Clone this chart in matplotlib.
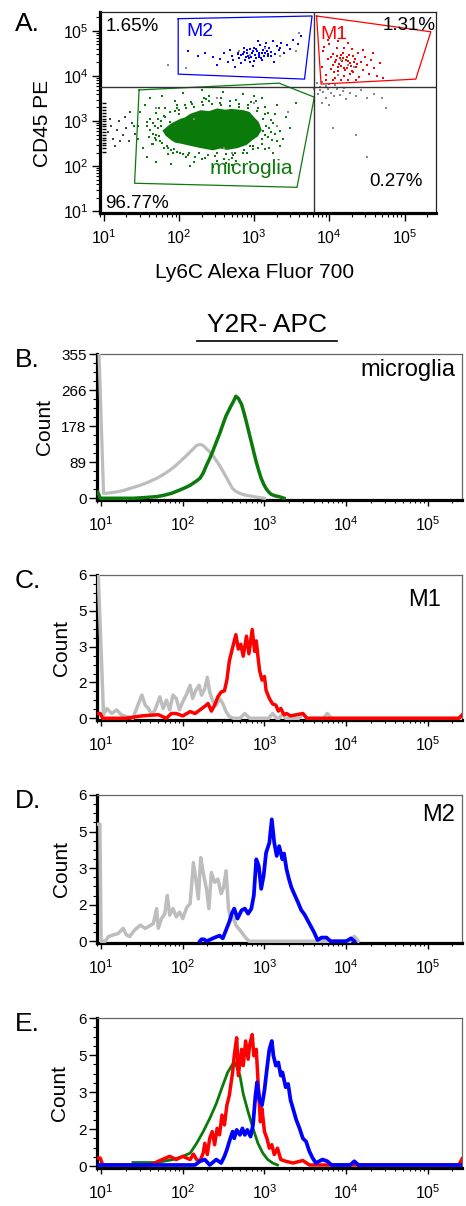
import numpy as np
import matplotlib
matplotlib.use("Agg")
import matplotlib.pyplot as plt
from matplotlib.ticker import LogLocator, MultipleLocator, NullFormatter
from matplotlib.lines import Line2D

plt.rcParams['font.family'] = ['Liberation Sans', 'DejaVu Sans']

# ---------------- data (log10 units) ----------------
# panel A: quadrant gates and populations
quad_x = 3.79
quad_y = 3.76
gate_m2_x = [1.99, 3.77, 3.67, 1.99]
gate_m2_y = [5.27, 5.33, 3.93, 4.04]
gate_m1_x = [3.83, 5.35, 5.15, 3.89]
gate_m1_y = [5.33, 4.98, 3.93, 3.82]
gate_mg_x = [1.47, 3.33, 3.80, 3.57, 1.41]
gate_mg_y = [3.69, 3.84, 3.53, 1.53, 1.62]

core_x = [1.78, 1.86, 1.90, 2.02, 2.08, 2.15, 2.29, 2.40, 2.51, 2.62, 2.70, 2.86, 2.94, 2.98, 3.06, 3.08,
          3.10, 3.05, 2.98, 2.90, 2.78, 2.64, 2.55, 2.45, 2.29, 2.15, 2.02, 1.95, 1.90, 1.82]
core_y = [2.79, 2.90, 2.95, 3.05, 3.08, 3.16, 3.24, 3.22, 3.28, 3.25, 3.27, 3.24, 3.20, 3.12, 2.98, 2.90,
          2.80, 2.66, 2.58, 2.47, 2.40, 2.36, 2.39, 2.35, 2.40, 2.45, 2.50, 2.52, 2.57, 2.68]

green_x = [1.62, 1.66, 1.70, 1.72, 1.75, 1.80, 1.84, 1.88, 1.93, 1.98, 2.02, 2.08, 2.12, 2.18, 2.22, 2.30,
           2.35, 2.40, 2.48, 2.55, 2.60, 2.68, 2.72, 2.80, 2.85, 2.92, 2.98, 3.05, 3.10, 3.14, 3.18, 3.20,
           3.22, 1.68, 1.76, 3.12, 2.95, 2.00, 1.40, 1.45, 1.48, 1.52, 1.55, 1.58, 1.62, 1.70, 1.78, 1.90,
           2.05, 2.15, 2.30, 2.45, 2.58, 2.70, 2.85, 2.95, 3.10, 3.25, 3.30, 3.38, 3.42, 3.48, 3.55, 2.40,
           2.20, 1.95, 3.00, 3.35, 1.58, 1.64, 3.28, 3.15, 2.62, 2.33, 1.86, 3.02, 2.76, 2.50, 1.73, 3.24,
           1.72, 1.74, 1.76, 1.78, 1.82, 1.85, 1.88, 1.90, 1.95, 1.97, 2.00, 2.05, 2.10, 2.14, 2.20, 2.26,
           2.32, 2.38, 2.44, 2.50, 2.56, 2.62, 2.68, 2.74, 2.80, 2.86, 2.92, 2.98, 3.04, 3.10, 3.12, 3.14,
           3.16, 1.65, 1.68, 1.70, 3.22, 3.25, 3.18, 3.05, 2.90, 2.70, 2.50, 2.30, 2.10, 1.92, 1.80, 1.66,
           1.60, 1.58, 1.62, 1.70, 1.82, 1.98, 2.16, 2.36, 2.56, 2.76, 2.96, 3.14, 3.28, 3.34, 3.30, 3.20]
green_y = [2.80, 2.95, 2.70, 3.05, 2.55, 3.12, 2.45, 3.20, 2.38, 3.28, 2.30, 3.35, 2.25, 3.38, 2.20, 3.42,
           2.18, 3.45, 2.22, 3.40, 2.15, 3.44, 2.25, 3.38, 2.30, 3.35, 2.38, 3.30, 2.50, 3.15, 2.65, 2.85,
           3.02, 2.62, 2.88, 2.78, 2.45, 3.15, 2.90, 2.60, 3.20, 2.40, 3.35, 2.20, 3.50, 2.10, 3.55, 2.05,
           3.62, 2.00, 3.68, 1.98, 3.65, 2.02, 3.60, 2.10, 3.50, 2.30, 3.35, 2.60, 3.10, 2.85, 3.40, 3.55,
           2.10, 3.45, 3.55, 2.45, 2.98, 2.50, 2.72, 2.38, 2.08, 3.52, 2.26, 3.44, 2.12, 3.50, 3.28, 2.58,
           2.85, 2.66, 3.00, 2.52, 3.08, 2.40, 2.98, 2.35, 3.22, 2.32, 3.25, 2.26, 3.30, 2.30, 3.32, 2.28,
           3.36, 2.25, 3.38, 2.28, 3.36, 2.26, 3.34, 2.30, 3.32, 2.36, 3.28, 2.44, 3.22, 2.60, 3.05, 2.70,
           2.90, 2.72, 2.90, 2.58, 2.75, 2.95, 3.18, 2.40, 2.28, 2.18, 2.12, 2.15, 2.20, 2.28, 2.40, 2.50,
           2.65, 2.88, 3.05, 3.18, 3.28, 3.36, 3.42, 3.48, 3.50, 3.46, 3.42, 3.32, 3.15, 2.78, 2.55, 2.40]

blue_x = [2.45, 2.55, 2.60, 2.65, 2.70, 2.72, 2.78, 2.80, 2.82, 2.85, 2.88, 2.90, 2.92, 2.95, 2.97, 3.00,
          3.02, 3.04, 3.06, 3.08, 3.10, 3.12, 3.14, 3.16, 3.18, 3.20, 3.22, 3.25, 3.28, 3.30, 3.33, 3.36,
          3.40, 3.44, 3.48, 3.52, 3.58, 3.62, 2.35, 2.25, 2.50, 2.75, 2.98, 3.26, 2.86, 3.05, 2.68, 2.12,
          2.93, 3.11, 3.35, 3.00, 2.83, 2.91, 2.96, 3.01, 3.07, 3.13, 3.17, 3.03, 2.89, 3.09, 3.19, 2.99,
          2.94, 3.15, 3.23, 2.87, 3.06, 2.79]
blue_y = [4.42, 4.38, 4.50, 4.30, 4.45, 4.35, 4.52, 4.40, 4.28, 4.48, 4.36, 4.58, 4.44, 4.32, 4.50, 4.62,
          4.40, 4.55, 4.46, 4.68, 4.36, 4.58, 4.50, 4.72, 4.44, 4.62, 4.54, 4.78, 4.48, 4.66, 4.58, 4.74,
          4.52, 4.68, 4.60, 4.80, 4.70, 4.88, 4.52, 4.45, 4.25, 4.20, 4.22, 4.30, 4.62, 4.78, 4.58, 4.55,
          4.40, 4.50, 4.62, 4.34, 4.46, 4.51, 4.42, 4.47, 4.52, 4.44, 4.56, 4.59, 4.41, 4.39, 4.49, 4.55,
          4.60, 4.64, 4.45, 4.53, 4.43, 4.49]

red_x = [3.90, 3.92, 3.95, 3.98, 4.00, 4.02, 4.05, 4.07, 4.08, 4.10, 4.12, 4.14, 4.16, 4.18, 4.20, 4.22,
         4.24, 4.26, 4.28, 4.30, 4.32, 4.34, 4.36, 4.38, 4.40, 4.42, 4.45, 4.48, 4.50, 4.53, 4.56, 4.60,
         4.64, 4.68, 4.72, 3.95, 4.05, 4.15, 4.25, 4.35, 3.98, 4.12, 4.25, 3.93, 4.45, 4.58, 4.20, 4.05,
         4.30, 4.10, 4.17, 4.27, 4.02, 4.13, 4.19, 4.23, 4.29, 4.09, 4.33, 4.21, 4.15, 4.37, 4.25, 4.11,
         4.31, 4.18, 4.06]
red_y = [4.20, 4.55, 4.02, 4.38, 4.70, 4.15, 4.48, 3.95, 4.30, 4.62, 4.10, 4.40, 4.22, 4.52, 4.00, 4.35,
         4.18, 4.46, 4.28, 4.60, 4.08, 4.38, 4.20, 4.50, 3.98, 4.30, 4.14, 4.42, 4.25, 4.05, 4.35, 4.18,
         4.00, 4.28, 3.95, 3.92, 3.90, 3.92, 3.90, 3.92, 4.80, 4.78, 4.72, 4.65, 4.58, 4.50, 4.62, 4.25,
         4.12, 4.45, 4.33, 4.05, 4.42, 4.27, 4.18, 4.41, 4.22, 4.36, 4.30, 4.13, 4.47, 4.26, 4.34, 4.19,
         4.44, 4.39, 4.09]

gray_x = [3.80, 3.85, 3.88, 3.92, 3.95, 3.98, 4.02, 4.06, 4.10, 4.14, 4.18, 4.22, 4.28, 4.35, 4.42, 4.50,
          4.60, 4.70, 3.90, 4.00, 4.05, 4.35, 4.50, 4.75, 3.83, 3.90, 4.00, 2.95, 3.15, 3.35, 2.80, 3.55,
          2.20, 2.70, 3.00, 1.70, 2.50, 3.30, 4.15, 4.33, 1.85, 2.10, 3.60, 3.45, 2.60, 3.87, 3.96, 4.08,
          4.20, 4.12, 4.25]
gray_y = [3.70, 3.60, 3.75, 3.65, 3.50, 3.72, 3.62, 3.55, 3.70, 3.58, 3.66, 3.48, 3.62, 3.55, 3.68, 3.50,
          3.60, 3.52, 3.40, 3.35, 2.85, 2.70, 2.20, 3.30, 3.85, 3.86, 3.82, 4.46, 4.62, 4.45, 4.55, 4.55,
          3.05, 2.30, 3.40, 3.30, 3.50, 2.90, 4.36, 4.20, 4.25, 4.18, 4.95, 3.20, 2.40, 3.68, 3.78, 3.80,
          3.74, 4.02, 4.24]

left_x = [1.05, 1.10, 1.12, 1.18, 1.20, 1.25, 1.30, 1.33, 1.38, 1.15, 1.28, 1.08, 1.22, 1.42, 1.35, 1.46]
left_y = [2.75, 2.90, 2.60, 2.80, 3.00, 2.70, 2.85, 2.55, 2.95, 2.45, 3.10, 3.05, 2.55, 2.72, 3.20, 2.88]
comb_y = [2.32, 2.40, 2.46, 2.52, 2.58, 2.63, 2.70, 2.76, 2.82, 2.88, 2.93, 2.99, 3.05, 3.12, 3.18, 3.25, 3.32, 3.40]

# panel B: microglia (counts 0-355)
b_ctrl_x = [0.975, 1.03, 1.10, 1.20, 1.27, 1.35, 1.48, 1.58, 1.68, 1.76, 1.84, 1.90, 1.96, 2.03, 2.09, 2.13, 2.17,
            2.20, 2.23, 2.26, 2.29, 2.33, 2.37, 2.41, 2.45, 2.49, 2.53, 2.57, 2.61, 2.65, 2.70, 2.76, 2.82, 2.90, 3.00]
b_ctrl_y = [355, 12, 13, 16, 19, 24, 32, 40, 49, 58, 69, 78, 89, 102, 114, 122, 130,
            132, 132, 128, 122, 114, 105, 93, 81, 67, 53, 38, 24, 17, 12, 8, 6, 3, 0]
b_mg_x = [0.96, 0.99, 1.40, 1.55, 1.68, 1.76, 1.86, 1.96, 2.03, 2.09, 2.15, 2.21, 2.25, 2.29, 2.33, 2.37, 2.41,
          2.45, 2.49, 2.53, 2.56, 2.59, 2.62, 2.65, 2.68, 2.72, 2.75, 2.78, 2.81, 2.84, 2.87, 2.90, 2.93, 2.96,
          2.99, 3.02, 3.05, 3.08, 3.13, 3.18, 3.24]
b_mg_y = [15, 0, 0, 2, 4, 7, 12, 20, 26, 32, 40, 49, 62, 81, 98, 117, 138,
          158, 181, 203, 215, 227, 238, 251, 246, 231, 210, 187, 162, 138, 113, 89, 68, 49,
          35, 24, 16, 10, 6, 4, 0]

# panel C: M1
c_ctrl_x = [0.955, 0.965, 1.03, 1.07, 1.13, 1.19, 1.25, 1.31, 1.39, 1.45, 1.50, 1.54, 1.58, 1.62, 1.66, 1.72,
            1.76, 1.80, 1.84, 1.88, 1.92, 1.96, 2.00, 2.05, 2.09, 2.12, 2.16, 2.20, 2.23, 2.27, 2.30, 2.33,
            2.37, 2.41, 2.45, 2.49, 2.53, 2.57, 2.62, 2.70, 2.76, 2.82, 3.05, 3.10, 3.15, 3.18, 3.22, 3.26,
            3.42, 3.47, 3.52, 3.72, 3.77, 3.82, 5.42]
c_ctrl_y = [6, 6, 0.14, 0.41, 0.2, 0.35, 0.14, 0.07, 0, 0.55, 0.97, 0.55, 0.41, 0.14, 0.35, 0.9,
            0.41, 0.76, 0.35, 0.97, 0.83, 0.35, 0.69, 1.03, 1.38, 0.83, 1.17, 1.38, 0.97, 1.24, 1.72, 1.1,
            0.69, 0.55, 0.83, 0.62, 0.28, 0.07, 0, 0, 0.2, 0, 0, 0.2, 0, 0, 0.2, 0,
            0, 0.2, 0, 0, 0.2, 0, 0]
c_m1_x = [0.955, 0.99, 1.02, 1.30, 1.50, 1.70, 1.80, 1.86, 1.92, 2.00, 2.09, 2.15, 2.21, 2.27, 2.31, 2.35,
          2.39, 2.43, 2.47, 2.51, 2.54, 2.57, 2.61, 2.65, 2.68, 2.71, 2.74, 2.78, 2.81, 2.85, 2.88, 2.90,
          2.92, 2.94, 2.97, 3.00, 3.02, 3.06, 3.10, 3.14, 3.17, 3.20, 3.24, 3.27, 3.32, 3.47, 3.52, 5.38, 5.42]
c_m1_y = [0.2, 0.2, 0, 0, 0.1, 0.15, 0, 0.2, 0.2, 0.1, 0.28, 0.2, 0.35, 0.5, 0.62, 0.3,
          0.55, 0.9, 1.1, 1.15, 1.6, 2.4, 2.96, 3.5, 2.9, 3.1, 2.6, 3.44, 2.7, 3.72, 2.8, 3.24,
          2.6, 2.0, 1.6, 1.75, 1.17, 0.83, 0.6, 0.55, 0.3, 0.41, 0.15, 0.2, 0.1, 0.2, 0, 0, 0.14]

# panel D: M2
d_ctrl_x = [0.97, 0.985, 1.00, 1.05, 1.09, 1.15, 1.21, 1.27, 1.31, 1.35, 1.41, 1.48, 1.54, 1.58, 1.64, 1.68,
            1.70, 1.74, 1.78, 1.81, 1.84, 1.88, 1.92, 1.96, 2.00, 2.05, 2.09, 2.13, 2.16, 2.19, 2.22, 2.25,
            2.29, 2.32, 2.35, 2.39, 2.43, 2.47, 2.50, 2.53, 2.56, 2.59, 2.62, 2.65, 2.70, 2.76, 2.81, 4.05,
            4.10, 4.15]
d_ctrl_y = [4.8, 4.8, 0, 0, 0.19, 0.26, 0.32, 0.53, 0.26, 0.19, 0.46, 0.66, 0.53, 0.6, 0.73, 1.34,
            0.53, 0.93, 1.13, 1.88, 1.07, 1.34, 1.0, 1.2, 0.93, 1.4, 1.54, 3.23, 2.55, 1.74, 3.43, 2.82,
            2.15, 1.34, 2.82, 2.42, 2.55, 1.95, 2.21, 2.89, 1.34, 0.86, 1.0, 0.66, 0.46, 0.19, 0, 0,
            0.2, 0]
d_m2_x = [2.21, 2.23, 2.26, 2.29, 2.39, 2.45, 2.49, 2.53, 2.57, 2.60, 2.63, 2.67, 2.72, 2.76, 2.80, 2.84,
          2.87, 2.90, 2.93, 2.96, 2.99, 3.02, 3.06, 3.09, 3.12, 3.15, 3.18, 3.22, 3.24, 3.27, 3.30, 3.33,
          3.37, 3.41, 3.45, 3.49, 3.53, 3.57, 3.61, 3.65, 3.70, 3.76, 3.81, 4.00, 4.06, 4.10]
d_m2_y = [0, 0.08, 0.08, 0, 0.15, 0.23, 0.12, 0.46, 0.8, 1.13, 1.34, 0.93, 1.27, 1.34, 1.13, 1.34,
          1.88, 3.36, 3.09, 2.15, 2.69, 3.63, 4.04, 5.0, 4.04, 3.5, 3.9, 3.36, 3.6, 2.96, 2.55, 2.21,
          1.9, 1.6, 1.28, 1.1, 0.85, 0.6, 0.35, 0.05, 0.15, 0.15, 0, 0, 0.12, 0]

# panel E: overlay
e_mg_x = [1.39, 1.68, 1.88, 2.00, 2.09, 2.17, 2.25, 2.33, 2.41, 2.49, 2.55, 2.61, 2.64, 2.70, 2.74, 2.80,
          2.86, 2.92, 2.98, 3.04, 3.10, 3.16]
e_mg_y = [0.15, 0.15, 0.27, 0.4, 0.53, 0.93, 1.4, 1.93, 2.53, 3.27, 3.8, 4.13, 4.2, 3.67, 2.93, 2.2,
          1.53, 0.93, 0.53, 0.27, 0.13, 0.05]
e_m1_x = [0.955, 0.99, 1.02, 1.60, 1.70, 1.84, 1.92, 2.00, 2.09, 2.13, 2.17, 2.21, 2.25, 2.27, 2.30, 2.33,
          2.36, 2.39, 2.42, 2.45, 2.48, 2.51, 2.54, 2.57, 2.61, 2.63, 2.66, 2.68, 2.72, 2.74, 2.77, 2.80,
          2.82, 2.85, 2.87, 2.90, 2.92, 2.95, 2.97, 3.00, 3.03, 3.06, 3.09, 3.12, 3.16, 3.20, 3.26, 3.35,
          3.47, 3.55, 5.38, 5.42]
e_m1_y = [0.33, 0.33, 0.05, 0.05, 0.2, 0.4, 0.27, 0.4, 0.27, 0.49, 0.27, 0.2, 0.53, 0.93, 0.47, 1.13,
          1.4, 0.87, 1.53, 1.27, 2.07, 1.67, 2.47, 2.87, 3.8, 4.47, 5.2, 3.67, 4.73, 4.07, 5.07, 4.33,
          4.93, 5.33, 4.47, 4.73, 3.53, 1.8, 2.33, 1.4, 1.13, 0.73, 0.87, 0.47, 0.73, 0.27, 0.2, 0.13,
          0.23, 0.05, 0.05, 0.3]
e_m2_x = [0.955, 2.15, 2.21, 2.27, 2.33, 2.41, 2.47, 2.51, 2.54, 2.57, 2.61, 2.63, 2.66, 2.70, 2.73, 2.76,
          2.79, 2.83, 2.86, 2.89, 2.91, 2.94, 2.97, 3.00, 3.03, 3.06, 3.09, 3.11, 3.14, 3.17, 3.20, 3.22,
          3.26, 3.29, 3.32, 3.35, 3.39, 3.43, 3.47, 3.51, 3.55, 3.59, 3.63, 3.71, 3.77, 3.82, 4.05, 4.10,
          4.15, 5.42]
e_m2_y = [0.05, 0.05, 0.2, 0.27, 0.05, 0.27, 0.13, 0.4, 0.67, 1.0, 1.4, 1.13, 1.47, 1.27, 1.53, 1.27,
          1.47, 1.2, 1.67, 2.87, 3.4, 2.67, 2.47, 3.07, 3.93, 4.73, 5.07, 4.47, 4.07, 4.2, 3.67, 3.8,
          3.2, 3.33, 2.67, 2.33, 1.87, 1.53, 1.13, 1.0, 0.6, 0.33, 0.13, 0.27, 0.2, 0.05, 0.05, 0.2,
          0.05, 0.05]

count_ticks_small = [0, 1.5, 3, 4.5, 6]
count_labels_small = ['0', '2', '3', '5', '6']
count_ticks_big = [0, 88.75, 177.5, 266.25, 355]
count_labels_big = ['0', '89', '178', '266', '355']

GREEN = '#0a7a0a'
RED = '#ff0000'
BLUE = '#0000ff'
GRAY = '#bdbdbd'

XMIN, XMAX = 10 ** 0.95, 262144


def lg(v):
    return np.power(10.0, np.asarray(v, dtype=float))


def log_x_axis(ax):
    ax.set_xscale('log')
    ax.set_xlim(XMIN, XMAX)
    ax.xaxis.set_major_locator(LogLocator(base=10, numticks=10))
    ax.xaxis.set_minor_locator(LogLocator(base=10, subs=np.arange(2, 10), numticks=20))
    ax.xaxis.set_minor_formatter(NullFormatter())


def style_spines(ax, edge='#666666'):
    ax.spines['left'].set_linewidth(2.3)
    ax.spines['bottom'].set_linewidth(2.3)
    ax.spines['top'].set_linewidth(0.9)
    ax.spines['right'].set_linewidth(0.9)
    ax.spines['top'].set_color(edge)
    ax.spines['right'].set_color(edge)


fig = plt.figure(figsize=(4.66, 12.06), dpi=100)

# ---------------- panel A ----------------
axA = fig.add_axes([100 / 466, 1 - 213 / 1206, 336 / 466, 201 / 1206])
log_x_axis(axA)
axA.set_yscale('log')
axA.set_ylim(10 ** 0.96, 262144)
axA.yaxis.set_major_locator(LogLocator(base=10, numticks=10))
axA.yaxis.set_minor_locator(LogLocator(base=10, subs=np.arange(2, 10), numticks=20))
axA.yaxis.set_minor_formatter(NullFormatter())
style_spines(axA, edge='#222222')
axA.tick_params(which='major', direction='out', length=6, width=1, labelsize=11.5, pad=2)
axA.tick_params(which='minor', direction='out', length=3, width=0.8)
axA.tick_params(axis='x', which='major', pad=5)

axA.fill(lg(core_x), lg(core_y), color=GREEN, lw=0, zorder=2)
axA.scatter(lg(green_x), lg(green_y), s=2.0, marker='s', color=GREEN, linewidths=0, zorder=2)
axA.scatter(lg(blue_x), lg(blue_y), s=1.8, marker='s', color=BLUE, linewidths=0, zorder=2)
axA.scatter(lg(red_x), lg(red_y), s=1.8, marker='s', color=RED, linewidths=0, zorder=2)
axA.scatter(lg(gray_x), lg(gray_y), s=1.4, marker='s', color='#888888', linewidths=0, zorder=2)
axA.scatter(lg(left_x), lg(left_y), s=1.6, marker='s', color='#444444', linewidths=0, zorder=2)
axA.scatter(np.full(len(comb_y), 10 ** 1.0), lg(comb_y), s=12, marker='_', color='black',
            linewidths=1.0, zorder=2, clip_on=False)

for gx, gy, col in [(gate_m2_x, gate_m2_y, BLUE), (gate_m1_x, gate_m1_y, RED), (gate_mg_x, gate_mg_y, GREEN)]:
    axA.plot(lg(gx + gx[:1]), lg(gy + gy[:1]), color=col, lw=0.9, zorder=3)

axA.axvline(10 ** quad_x, color='#333333', lw=1.0, zorder=3)
axA.axhline(10 ** quad_y, color='#333333', lw=1.0, zorder=3)

axA.text(0.018, 0.928, '1.65%', transform=axA.transAxes, fontsize=13.5, ha='left', va='center')
axA.text(0.842, 0.935, '1.31%', transform=axA.transAxes, fontsize=13.5, ha='left', va='center', clip_on=False)
axA.text(0.80, 0.159, '0.27%', transform=axA.transAxes, fontsize=13.5, ha='left', va='center')
axA.text(0.015, 0.047, '96.77%', transform=axA.transAxes, fontsize=13.5, ha='left', va='center')
axA.text(0.256, 0.903, 'M2', transform=axA.transAxes, fontsize=14, ha='left', va='center', color=BLUE)
axA.text(0.655, 0.888, 'M1', transform=axA.transAxes, fontsize=14, ha='left', va='center', color=RED)
axA.text(0.327, 0.22, 'microglia', transform=axA.transAxes, fontsize=15, ha='left', va='center', color=GREEN)

fig.text(15 / 466, 1 - 24 / 1206, 'A.', fontsize=19, ha='left', va='center')
fig.text(42 / 466, 1 - 123 / 1206, 'CD45 PE', fontsize=15, rotation=90, ha='center', va='center')
fig.text(255 / 466, 1 - 273 / 1206, 'Ly6C Alexa Fluor 700', fontsize=15, ha='center', va='center')

# title for the histograms, underlined
fig.text(267 / 466, 1 - 325 / 1206, 'Y2R- APC', fontsize=19, ha='center', va='center')
fig.add_artist(Line2D([197 / 466, 337 / 466], [1 - 341 / 1206, 1 - 341 / 1206], color='black', lw=1.2))


# ---------------- histograms ----------------
def hist_axes(top, bottom, ymax, ticks, labels, letter, count_x):
    ax = fig.add_axes([97 / 466, 1 - bottom / 1206, 365 / 466, (bottom - top) / 1206])
    log_x_axis(ax)
    ax.set_ylim(-ymax * 0.012, ymax)
    ax.set_yticks(ticks)
    ax.set_yticklabels(labels)
    ax.yaxis.set_minor_locator(MultipleLocator(ymax / 16))
    style_spines(ax)
    ax.tick_params(which='major', direction='out', length=6, width=1, labelsize=11, pad=1.5)
    ax.tick_params(which='minor', direction='out', length=3, width=0.8)
    ax.tick_params(axis='x', which='major', length=4, pad=7, labelsize=11.5)
    ax.tick_params(axis='x', which='minor', length=2.5)
    ax.text(count_x, 0.5, 'Count', transform=ax.transAxes, rotation=90, fontsize=15,
            ha='center', va='center')
    fig.text(15 / 466, 1 - (top + 6) / 1206, letter, fontsize=19, ha='left', va='center')
    return ax


axB = hist_axes(354, 500, 355, count_ticks_big, count_labels_big, 'B.', (44 - 97) / 365)
axB.plot(lg(b_ctrl_x), b_ctrl_y, color=GRAY, lw=2.3, zorder=3)
axB.plot(lg(b_mg_x), b_mg_y, color=GREEN, lw=2.5, zorder=4)
axB.text(0.981, 0.89, 'microglia', transform=axB.transAxes, fontsize=17, ha='right', va='center')

axC = hist_axes(575, 720, 6, count_ticks_small, count_labels_small, 'C.', (61 - 97) / 365)
axC.plot(lg(c_ctrl_x), c_ctrl_y, color=GRAY, lw=2.5, zorder=3)
axC.plot(lg(c_m1_x), c_m1_y, color=RED, lw=2.5, zorder=4)
axC.text(0.942, 0.831, 'M1', transform=axC.transAxes, fontsize=17, ha='right', va='center')

axD = hist_axes(795, 943, 6, count_ticks_small, count_labels_small, 'D.', (61 - 97) / 365)
axD.plot(lg(d_ctrl_x), d_ctrl_y, color=GRAY, lw=2.5, zorder=3)
axD.plot(lg(d_m2_x), d_m2_y, color=BLUE, lw=2.7, zorder=4)
axD.text(0.981, 0.865, 'M2', transform=axD.transAxes, fontsize=17, ha='right', va='center')

axE = hist_axes(1018, 1168, 6, count_ticks_small, count_labels_small, 'E.', (60 - 97) / 365)
axE.plot(lg(e_mg_x), e_mg_y, color=GREEN, lw=2.0, zorder=3)
axE.plot(lg(e_m1_x), e_m1_y, color=RED, lw=2.5, zorder=4)
axE.plot(lg(e_m2_x), e_m2_y, color=BLUE, lw=2.7, zorder=5)

fig.savefig('out.png', dpi=100)
